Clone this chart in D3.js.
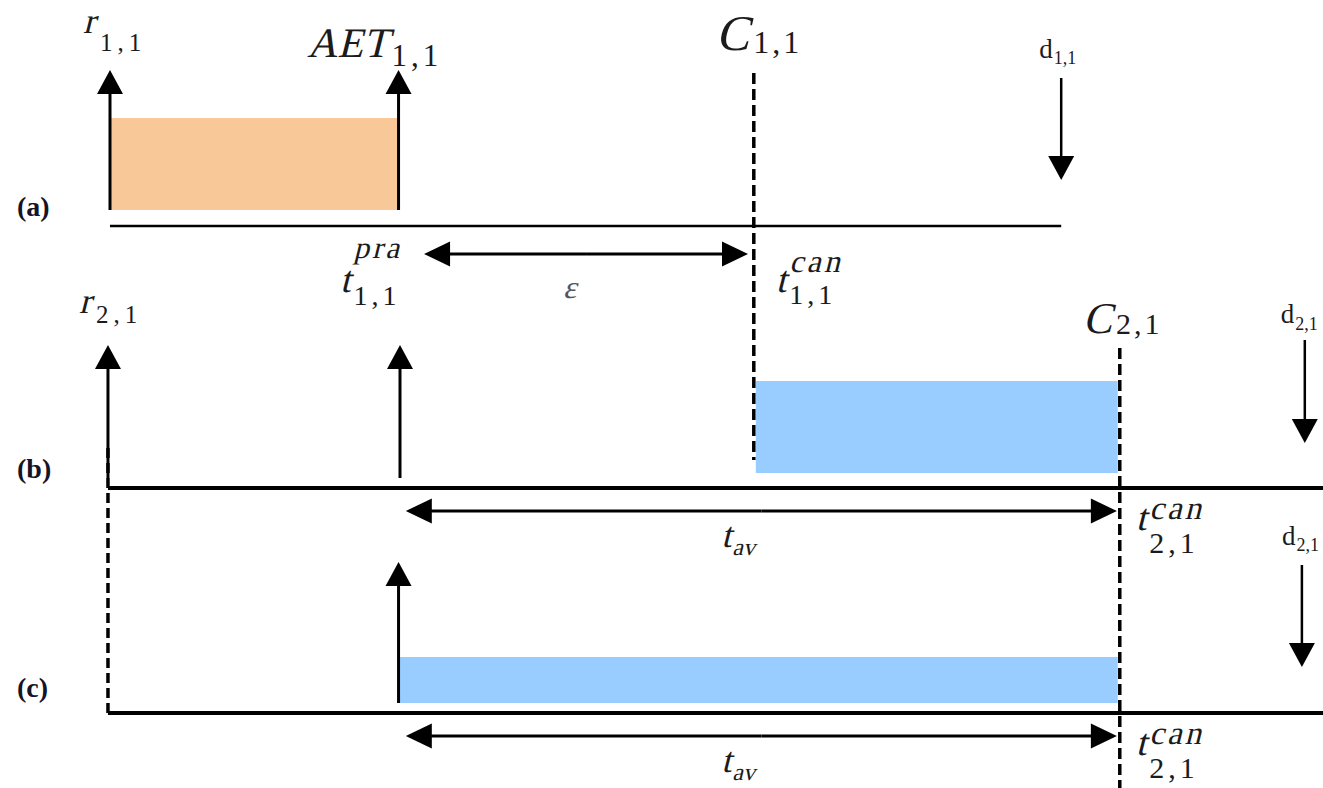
<!DOCTYPE html>
<html>
<head>
<meta charset="utf-8">
<script src="https://cdn.jsdelivr.net/npm/d3@7"></script>
<style>
    body { margin: 0; background: #fff; }
    svg text { font-family: "Liberation Serif", "Times New Roman", serif; fill: #1b1b1b; }
</style>
</head>
<body>
<svg id="drawing_region"></svg>
<script>
// ---- data (abstract time units) ----
const rows       = ['a', 'b', 'c'];
const rowLabels  = ['(a)', '(b)', '(c)'];
const axisStart  = [0, -0.07, -0.07];
const axisEnd    = [32.8, 41.85, 41.85];

// executions (coloured blocks)
const execRow   = ['a', 'b', 'c'];
const execJob   = ['job1', 'job2', 'job2'];
const execStart = [0, 22.27, 10];
const execEnd   = [10, 34.75, 34.75];

// release / start arrows (pointing up)
const upRow  = ['a', 'a', 'b', 'b', 'c'];
const upTime = [0, 9.95, -0.07, 10, 9.95];

// deadline arrows (pointing down)
const downRow  = ['a', 'b', 'c'];
const downTime = [32.8, 41.2, 41.1];

// completion (cancel) instants, dashed
const cancelName = ['C11', 'C21'];
const cancelTime = [22.2, 34.82];

// double-headed intervals
const spanRow   = ['a', 'b', 'c'];
const spanFrom  = [10.83, 10.2, 10.2];
const spanTo    = [22.0, 34.72, 34.72];
const spanLabel = ['ε', 't', 't'];
const spanSub   = ['', 'av', 'av'];

class TimingChart {

    constructor( config ) {
        this.config = {
            parent: config.parent,
            width: config.width || 1323,
            height: config.height || 788
        }
        this.init();
    }

    init() {
        let self = this;

        self.svg = d3.select( self.config.parent )
            .attr('width', self.config.width)
            .attr('height', self.config.height);

        self.xscale = d3.scaleLinear()
            .domain([0, 10])
            .range([110, 400]);

        // baseline of each row
        self.base = d3.scaleOrdinal()
            .domain(rows)
            .range([226, 488, 713]);
    }

    arrow( x1, y1, x2, y2, head, width, sw ) {
        let self = this;
        const dx = x2 - x1, dy = y2 - y1;
        const len = Math.hypot(dx, dy);
        const ux = dx / len, uy = dy / len;
        const bx = x2 - ux * head, by = y2 - uy * head;
        self.svg.append('line')
            .attr('x1', x1).attr('y1', y1)
            .attr('x2', bx + ux).attr('y2', by + uy)
            .attr('stroke', '#000')
            .attr('stroke-width', sw);
        self.svg.append('path')
            .attr('d', `M${x2},${y2} L${bx - uy * width / 2},${by + ux * width / 2} L${bx + uy * width / 2},${by - ux * width / 2} Z`)
            .attr('fill', '#000');
    }

    // italic is faked with a skew, the serif italic face is not installed
    txt( g, x, y, str, size, italic ) {
        return g.append('text')
            .attr('transform', `translate(${x},${y})` + (italic ? ' skewX(-14)' : ''))
            .attr('font-size', size)
            .text(str);
    }

    label( x, y, main, sup, sub, o ) {
        let self = this;
        const g = self.svg.append('g');
        const m = self.txt(g, x, y, main, o.size, !o.upright)
            .attr('letter-spacing', o.mainSpacing || 0);
        const w = m.node().getComputedTextLength();
        const sx = x + w + (o.gap || 1);
        if ( sup ) {
            self.txt(g, sx, o.supY, sup, o.supSize, true)
                .attr('letter-spacing', o.supSpacing || 0);
        }
        if ( sub ) {
            self.txt(g, sx + (o.subDx || 0), o.subY, sub, o.subSize, o.subItalic)
                .attr('letter-spacing', o.spacing || 0);
        }
    }

    render() {
        let self = this;
        const x = self.xscale;
        const execColor = { job1: '#f9c899', job2: '#99ccff' };
        const rectTop = { a: 108, b: 107, c: 56 };
        const rectBot = { a: 16, b: 15, c: 10 };
        const upTip = { a: 156, b: 143, c: 151 };
        const upBot = { a: 16, b: 10, c: 10 };
        const axisWidth = { a: 2.5, b: 4, c: 4 };

        // executions
        execRow.forEach( (r, i) => {
            self.svg.append('rect')
                .attr('x', x(execStart[i]))
                .attr('y', self.base(r) - rectTop[r])
                .attr('width', x(execEnd[i]) - x(execStart[i]))
                .attr('height', rectTop[r] - rectBot[r])
                .attr('fill', execColor[execJob[i]]);
        });

        // time axes
        rows.forEach( (r, i) => {
            self.svg.append('line')
                .attr('x1', x(axisStart[i])).attr('x2', x(axisEnd[i]))
                .attr('y1', self.base(r)).attr('y2', self.base(r))
                .attr('stroke', '#000')
                .attr('stroke-width', axisWidth[r]);
            self.svg.append('text')
                .attr('x', 17)
                .attr('y', self.base(r) + [-10, -10, -16][i])
                .attr('font-size', 28)
                .attr('font-weight', 'bold')
                .style('fill', '#141428')
                .text(rowLabels[i]);
        });

        // dashed: job 2 release carried down to (c)
        self.svg.append('line')
            .attr('x1', x(-0.07)).attr('x2', x(-0.07))
            .attr('y1', self.base('b') - 40).attr('y2', self.base('c'))
            .attr('stroke', '#000')
            .attr('stroke-width', 3.5)
            .attr('stroke-dasharray', '10,5');

        // dashed completion instants
        const cancelTop = [73, 348];
        const cancelBot = [self.base('b') - 28, 788];
        cancelTime.forEach( (t, i) => {
            self.svg.append('line')
                .attr('x1', x(t)).attr('x2', x(t))
                .attr('y1', cancelTop[i]).attr('y2', cancelBot[i])
                .attr('stroke', '#000')
                .attr('stroke-width', 3.5)
                .attr('stroke-dasharray', '11,5');
        });

        // up arrows
        upRow.forEach( (r, i) => {
            self.arrow(x(upTime[i]), self.base(r) - upBot[r],
                       x(upTime[i]), self.base(r) - upTip[r], 24, 26, 3);
        });

        // down arrows (deadlines)
        const downTop = { a: 148, b: 148, c: 148 };
        const downTip = { a: 46, b: 45, c: 46 };
        downRow.forEach( (r, i) => {
            self.arrow(x(downTime[i]), self.base(r) - downTop[r],
                       x(downTime[i]), self.base(r) - downTip[r], 24, 26, 2.5);
        });

        // interval arrows
        const spanDy = { a: 28, b: 23, c: 23 };
        spanRow.forEach( (r, i) => {
            const y = self.base(r) + spanDy[r];
            const x1 = x(spanFrom[i]), x2 = x(spanTo[i]);
            const xm = (x1 + x2) / 2;
            self.arrow(xm, y, x1, y, 26, 25, 3);
            self.arrow(xm, y, x2, y, 26, 25, 3);
        });

        // ---- labels ----
        self.label(x(0) - 27, 33, 'r', '', '1,1',
            { size: 36, subSize: 25, subY: 51, spacing: 5, gap: 5 });
        self.label(x(0) - 31, 313, 'r', '', '2,1',
            { size: 36, subSize: 25, subY: 323, spacing: 5, gap: 5 });
        self.label(x(10) - 93, 57, 'AET', '', '1,1',
            { size: 42, subSize: 31, subY: 66, spacing: 4, gap: 3 });
        self.label(x(cancelTime[0]) - 38, 50, 'C', '', '1,1',
            { size: 50, subSize: 32, subY: 53, spacing: 3, gap: 4 });
        self.label(x(cancelTime[1]) - 37, 333, 'C', '', '2,1',
            { size: 44, subSize: 30, subY: 334, spacing: 3, gap: 4 });

        self.label(x(downTime[0]) - 22, 58, 'd', '', '1,1',
            { size: 27, subSize: 18, subY: 64, upright: true, gap: 0 });
        self.label(x(downTime[1]) - 24, 323, 'd', '', '2,1',
            { size: 27, subSize: 18, subY: 330, upright: true, gap: 0 });
        self.label(x(downTime[2]) - 20, 545, 'd', '', '2,1',
            { size: 27, subSize: 18, subY: 551, upright: true, gap: 0 });

        // t labels round the intervals
        self.label(x(10) - 60, 292, 't', 'pra', '1,1',
            { size: 38, supSize: 31, supY: 258, supSpacing: 3, subSize: 28, subY: 305, spacing: 4, gap: 3 });
        self.label(x(cancelTime[0]) + 22, 292, 't', 'can', '1,1',
            { size: 38, supSize: 32, supY: 272, supSpacing: 3, subSize: 28, subY: 304, spacing: 4, gap: 3 });
        self.label(x(cancelTime[1]) + 16, 530, 't', 'can', '2,1',
            { size: 38, supSize: 33, supY: 519, supSpacing: 3, subSize: 30, subY: 553, spacing: 4, gap: 3 });
        self.label(x(cancelTime[1]) + 16, 755, 't', 'can', '2,1',
            { size: 38, supSize: 33, supY: 744, supSpacing: 3, subSize: 30, subY: 778, spacing: 4, gap: 3 });

        spanRow.forEach( (r, i) => {
            const xm = (x(spanFrom[i]) + x(spanTo[i])) / 2;
            if ( spanSub[i] ) {
                self.label(xm - 40, self.base(r) + 59, spanLabel[i], '', spanSub[i],
                    { size: 36, subSize: 24, subY: self.base(r) + 67, subItalic: true, gap: 0 });
            } else {
                self.txt(self.svg, xm - 23, self.base(r) + 72, spanLabel[i], 32, true)
                    .style('fill', '#555');
            }
        });
    }
}

const chart = new TimingChart({ parent: '#drawing_region', width: 1323, height: 788 });
chart.render();
</script>
</body>
</html>
